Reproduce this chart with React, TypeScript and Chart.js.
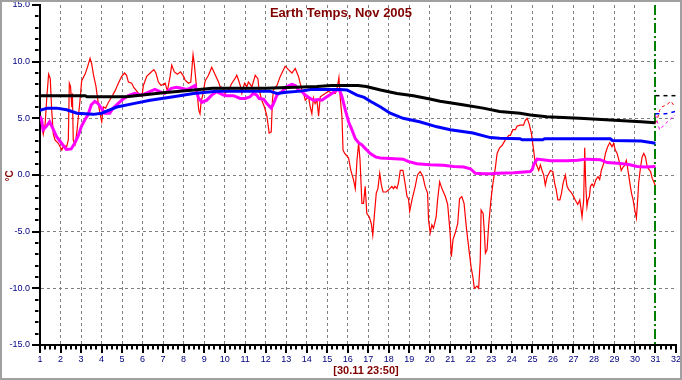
import React, { useEffect, useRef } from 'react';
import { Chart, registerables } from 'chart.js';

Chart.register(...registerables);

const TITLE = 'Earth Temps, Nov 2005';
const X_TITLE = '[30.11 23:50]';
const Y_TITLE = '\u00B0C';
const X_MIN = 1;
const X_MAX = 32;
const Y_MIN = -15;
const Y_MAX = 15;
const NOW_DAY = 31;

// Hourly-ish temperature (red)
const redDays = [
  1.0, 1.08, 1.16, 1.25, 1.33, 1.42, 1.5, 1.57, 1.65, 1.73, 1.89, 1.98, 2.06, 2.15, 2.3, 2.38, 2.43, 2.49, 2.55, 2.58,
  2.62, 2.71, 2.79, 2.95, 3.03, 3.2, 3.31, 3.44, 3.52, 3.6, 3.73, 3.84, 3.96, 4.01, 4.09, 4.2, 4.33, 4.5, 4.65, 4.82,
  4.98, 5.12, 5.22, 5.31, 5.47, 5.58, 5.72, 5.88, 5.98, 6.04, 6.2, 6.37, 6.55, 6.65, 6.77, 6.9, 7.1, 7.21, 7.34, 7.42,
  7.55, 7.7, 7.85, 8.0, 8.07, 8.23, 8.35, 8.46, 8.52, 8.6, 8.67, 8.74, 8.8, 8.85, 8.95, 9.05, 9.21, 9.37, 9.5, 9.7,
  9.78, 9.9, 10.02, 10.19, 10.35, 10.5, 10.59, 10.67, 10.76, 10.84, 10.97, 11.08, 11.16, 11.33, 11.49, 11.62, 11.68, 11.81, 11.94, 12.06,
  12.17, 12.27, 12.33, 12.38, 12.55, 12.71, 12.95, 13.11, 13.28, 13.44, 13.6, 13.68, 13.77, 13.85, 13.93, 14.09, 14.17, 14.25, 14.33, 14.41,
  14.5, 14.58, 14.66, 14.9, 15.07, 15.23, 15.39, 15.47, 15.57, 15.63, 15.72, 15.77, 15.85, 15.95, 16.04, 16.15, 16.28, 16.37, 16.45, 16.53,
  16.6, 16.69, 16.77, 16.85, 16.93, 17.05, 17.15, 17.22, 17.3, 17.39, 17.47, 17.56, 17.64, 17.72, 17.88, 18.05, 18.15, 18.23, 18.3, 18.4,
  18.48, 18.56, 18.69, 18.8, 18.89, 18.96, 19.02, 19.13, 19.29, 19.4, 19.53, 19.66, 19.77, 19.89, 19.94, 20.02, 20.1, 20.18, 20.31, 20.38,
  20.48, 20.59, 20.76, 20.87, 20.99, 21.05, 21.13, 21.24, 21.36, 21.45, 21.56, 21.67, 21.78, 21.85, 21.95, 22.01, 22.1, 22.17, 22.3, 22.38,
  22.46, 22.5, 22.6, 22.66, 22.71, 22.79, 22.87, 22.98, 23.08, 23.2, 23.28, 23.4, 23.52, 23.68, 23.85, 23.93, 24.05, 24.17, 24.25, 24.4,
  24.57, 24.65, 24.74, 24.83, 24.95, 25.06, 25.12, 25.2, 25.31, 25.39, 25.47, 25.55, 25.63, 25.71, 25.88, 26.0, 26.08, 26.16, 26.24, 26.34,
  26.42, 26.5, 26.61, 26.69, 26.77, 26.88, 26.98, 27.09, 27.21, 27.31, 27.42, 27.5, 27.55, 27.6, 27.66, 27.71, 27.78, 27.83, 27.91, 27.99,
  28.1, 28.2, 28.28, 28.36, 28.47, 28.56, 28.67, 28.77, 28.88, 28.96, 29.04, 29.13, 29.26, 29.33, 29.42, 29.48, 29.58, 29.66, 29.75, 29.83,
  29.91, 29.99, 30.07, 30.13, 30.18, 30.27, 30.35, 30.43, 30.51, 30.6, 30.68, 30.76, 30.84, 30.92, 30.98,
];
const redTemps = [
  5.1, 4.5, 3.6, 4.5, 6.8, 8.9, 8.5, 5.7, 3.6, 3.1, 2.8, 2.5, 2.2, 2.6, 2.5, 3.1, 8.1, 7.8, 6.0, 7.2,
  3.1, 2.7, 3.7, 6.6, 8.3, 8.9, 9.5, 10.3, 9.8, 8.9, 7.8, 6.3, 5.1, 4.7, 6.0, 5.9, 6.4, 6.9, 7.4, 8.1,
  8.7, 9.0, 8.8, 8.2, 8.1, 7.7, 7.4, 7.0, 7.1, 7.9, 8.7, 9.0, 9.3, 9.0, 8.2, 7.9, 8.1, 7.4, 8.7, 9.7,
  9.1, 8.9, 9.1, 8.7, 8.4, 8.1, 8.2, 10.6, 9.8, 8.3, 7.0, 5.7, 5.4, 6.4, 7.2, 8.3, 8.8, 9.5, 9.0, 8.2,
  7.8, 7.7, 7.2, 7.5, 8.1, 8.5, 8.8, 8.4, 7.9, 7.2, 8.1, 7.8, 8.2, 7.8, 8.8, 8.5, 7.5, 6.6, 6.0, 5.2,
  3.7, 3.8, 6.6, 7.5, 7.9, 8.7, 9.6, 9.3, 9.0, 9.4, 8.7, 8.1, 7.5, 7.2, 6.6, 6.9, 6.0, 5.4, 6.8, 6.3,
  6.6, 5.2, 6.9, 7.2, 7.4, 7.2, 7.2, 7.5, 8.6, 6.9, 5.1, 2.2, 1.9, 1.7, 1.5, 0.4, -0.4, -1.2, 1.3, 2.8,
  1.3, -2.5, -2.5, -1.0, -3.4, -3.7, -4.3, -5.3, -3.5, -1.6, -1.2, 0.15, -0.9, -1.5, -1.5, -1.2, -1.0, -1.2, -1.0, -1.2,
  -0.6, 0.4, 0.4, -0.8, -1.9, -2.1, -3.2, -2.2, -1.0, 0.0, 0.3, -0.1, -1.0, -1.6, -4.0, -5.1, -4.4, -4.7, -3.7, -2.2,
  -0.6, -1.2, -1.9, -2.6, -5.1, -7.2, -5.7, -5.1, -4.3, -2.1, -1.9, -2.5, -4.6, -5.7, -7.2, -8.1, -9.0, -10.0, -9.8, -10.0,
  -7.5, -3.1, -3.4, -5.1, -6.9, -6.6, -4.4, -2.2, -0.7, 0.7, 1.9, 2.4, 2.6, 3.1, 3.5, 3.5, 4.0, 4.0, 4.3, 4.4,
  4.4, 4.8, 5.0, 4.6, 3.7, 2.2, 1.3, 0.9, 0.4, 0.9, 0.4, 0.0, -0.9, -0.2, 0.4, 0.3, -0.7, -1.3, -2.2, -2.2,
  -1.6, -0.7, 0.0, -1.0, -1.3, -1.5, -1.8, -2.2, -2.6, -2.2, -3.7, -2.2, 2.4, -0.8, -2.8, -2.2, -1.9, -1.0, -0.8, -1.0,
  -0.4, -0.15, -0.4, 0.4, 1.0, 1.9, 2.5, 2.85, 2.5, 2.8, 2.2, 1.9, 1.0, 0.4, 0.7, 0.8, 1.3, 0.4, -0.7, -1.6,
  -2.2, -3.1, -3.8, -2.2, -0.7, 0.7, 1.6, 1.9, 1.6, 0.7, 0.5, 0.3, -0.3, -0.6, -0.9,
];

// Long-term mean (black)
const blackDays = [1, 3.2, 3.3, 5.2, 6.0, 7.0, 8.5, 9.4, 12.0, 14.5, 15.2, 16.5, 16.9, 17.6, 18.4, 19.2, 20.0, 20.5, 21.6, 22.6, 23.4, 24.4, 24.9, 25.7, 27.3, 28.8, 30.3, 31.0];
const blackTemps = [7.0, 7.0, 6.9, 6.9, 7.05, 7.25, 7.5, 7.65, 7.65, 7.8, 7.9, 7.9, 7.8, 7.5, 7.2, 7.0, 6.7, 6.5, 6.2, 5.9, 5.6, 5.45, 5.3, 5.15, 5.0, 4.85, 4.7, 4.6];

// Slow running mean (blue)
const blueDays = [1, 1.35, 1.8, 2.3, 2.8, 3.6, 4.0, 4.4, 4.74, 5.55, 6.37, 7.5, 8.48, 9.6, 12.2, 12.55, 13.0, 13.7, 14.2, 15.6, 15.96, 16.45, 16.8, 17.1, 17.6, 18.07, 18.7, 19.5, 20.35, 21.0, 22.1, 22.95, 23.4, 24.4, 24.5, 25.5, 25.6, 28.8, 28.9, 30.3, 31.0];
const blueTemps = [5.7, 5.9, 5.9, 5.75, 5.45, 5.35, 5.45, 5.75, 6.0, 6.3, 6.6, 6.9, 7.2, 7.4, 7.4, 7.2, 7.3, 7.4, 7.55, 7.55, 7.5, 7.05, 6.85, 6.5, 6.0, 5.45, 5.0, 4.7, 4.25, 4.0, 3.7, 3.3, 3.25, 3.2, 3.1, 3.1, 3.2, 3.2, 3.05, 3.0, 2.8];

// Fast running mean (magenta)
const magentaDays = [1, 1.08, 1.15, 1.31, 1.47, 1.63, 1.8, 2.05, 2.28, 2.52, 2.69, 2.85, 3.02, 3.18, 3.34, 3.5, 3.67, 3.83, 3.99, 4.15, 4.4, 4.56, 4.8, 5.05, 5.3, 5.62, 5.95, 6.27, 6.6, 6.84, 7.08, 7.4, 7.65, 7.9, 8.14, 8.3, 8.56, 8.72, 8.89, 9.13, 9.37, 9.6, 9.78, 9.94, 10.1, 10.43, 10.76, 11.0, 11.24, 11.4, 11.57, 11.68, 11.9, 12.06, 12.27, 12.38, 12.55, 12.79, 13.03, 13.28, 13.44, 13.6, 13.77, 13.93, 14.17, 14.33, 14.57, 14.74, 14.98, 15.23, 15.47, 15.59, 15.72, 15.88, 16.04, 16.2, 16.37, 16.53, 16.69, 16.85, 17.1, 17.35, 17.59, 18.07, 18.7, 18.94, 19.37, 20.0, 20.65, 21.16, 21.65, 21.98, 22.22, 22.62, 23.0, 23.28, 24.1, 24.9, 25.0, 25.06, 25.23, 25.88, 26.7, 27.2, 27.67, 28.3, 28.64, 29.0, 29.4, 29.75, 30.1, 30.5, 31.0];
const magentaTemps = [5.2, 4.85, 4.0, 4.3, 4.7, 4.1, 3.4, 2.8, 2.25, 2.3, 2.8, 3.4, 4.3, 4.85, 5.3, 6.2, 6.5, 6.3, 5.9, 5.45, 5.45, 5.9, 6.3, 6.7, 7.0, 7.2, 7.05, 7.3, 7.55, 7.35, 7.2, 7.65, 7.75, 7.65, 7.55, 7.65, 7.9, 6.8, 6.4, 6.6, 7.05, 7.35, 7.2, 7.05, 7.0, 7.0, 6.75, 6.75, 6.9, 7.2, 7.05, 6.75, 6.7, 6.3, 5.9, 6.3, 7.05, 7.35, 7.8, 8.0, 7.9, 7.5, 7.35, 7.05, 6.75, 6.6, 6.65, 6.6, 6.9, 7.2, 7.5, 7.55, 6.9, 5.75, 4.7, 4.0, 3.2, 2.85, 2.65, 2.35, 1.9, 1.6, 1.5, 1.45, 1.4, 1.2, 1.0, 0.9, 0.85, 0.75, 0.7, 0.55, 0.15, 0.1, 0.1, 0.15, 0.2, 0.3, 0.5, 0.9, 1.4, 1.25, 1.25, 1.3, 1.4, 1.35, 1.1, 1.05, 1.0, 0.9, 0.75, 0.7, 0.75];

// Forecast beyond "now" (dashed)
const fcBlackDays = [31, 32];
const fcBlackTemps = [7.0, 7.0];
const fcBlueDays = [31, 31.5, 31.95];
const fcBlueTemps = [5.4, 5.4, 5.6];
const fcMagentaDays = [31.0, 31.2, 31.5, 31.95];
const fcMagentaTemps = [5.3, 4.0, 4.55, 5.3];
const fcRedDays = [31.0, 31.1, 31.2, 31.3, 31.55, 31.75, 31.95];
const fcRedTemps = [4.55, 5.0, 5.7, 6.0, 6.2, 6.5, 6.0];

const pts = (xs: number[], ys: number[]) => xs.map((x, i) => ({ x, y: ys[i] }));

const NAVY = '#000080';
const DARK_RED = '#800000';
const GRID = '#808080';
const TICK_FONT = '"Liberation Sans Narrow", "Arial Narrow", "Liberation Sans", Arial, sans-serif';
const TITLE_FONT = '"Liberation Sans", Arial, sans-serif';

export default function App() {
  const ref = useRef<HTMLCanvasElement>(null);

  useEffect(() => {
    document.body.style.margin = '0';
    const canvas = ref.current!;

    const decor = {
      id: 'decor',
      beforeDraw(chart: any) {
        const ctx = chart.ctx;
        ctx.save();
        ctx.fillStyle = '#ffffff';
        ctx.fillRect(0, 0, chart.width, chart.height);
        ctx.restore();
      },
      beforeDatasetsDraw(chart: any) {
        const ctx = chart.ctx;
        const xs = chart.scales.x;
        const area = chart.chartArea;
        const gx = Math.round(xs.getPixelForValue(NOW_DAY));
        ctx.save();
        ctx.strokeStyle = '#008000';
        ctx.lineWidth = 2;
        ctx.setLineDash([10, 3, 2, 3]);
        ctx.beginPath();
        ctx.moveTo(gx, area.top);
        ctx.lineTo(gx, area.bottom);
        ctx.stroke();
        ctx.restore();
      },
      afterDraw(chart: any) {
        const ctx = chart.ctx;
        const xs = chart.scales.x;
        const ys = chart.scales.y;
        const area = chart.chartArea;
        ctx.save();
        ctx.strokeStyle = '#000000';
        ctx.lineWidth = 2;
        // y ticks
        for (let v = Y_MIN; v <= Y_MAX; v++) {
          const py = Math.round(ys.getPixelForValue(v));
          const major = v % 5 === 0;
          ctx.beginPath();
          ctx.moveTo(area.left - (major ? 8 : 5), py);
          ctx.lineTo(area.left - (major ? 0 : 1.5), py);
          ctx.stroke();
        }
        // x ticks
        for (let i = 0; i <= (X_MAX - X_MIN) * 4; i++) {
          const v = X_MIN + i / 4;
          const px = Math.round(xs.getPixelForValue(v));
          const major = i % 4 === 0;
          ctx.beginPath();
          ctx.moveTo(px, area.bottom + (major ? 0 : 1));
          ctx.lineTo(px, area.bottom + (major ? 8 : 4.5));
          ctx.stroke();
        }
        // titles
        ctx.fillStyle = DARK_RED;
        ctx.font = `bold 13px ${TITLE_FONT}`;
        ctx.textAlign = 'center';
        ctx.textBaseline = 'alphabetic';
        ctx.fillText(TITLE, chart.width / 2, 17);
        ctx.font = `bold 11px ${TITLE_FONT}`;
        ctx.fillText(X_TITLE, (area.left + area.right) / 2 + 8, 374);
        ctx.translate(10, (area.top + area.bottom) / 2 + 1);
        ctx.rotate(-Math.PI / 2);
        ctx.font = `bold 10px ${TITLE_FONT}`;
        ctx.textBaseline = 'middle';
        ctx.fillText(Y_TITLE, 0, 0);
        ctx.restore();
        // outer frame
        ctx.save();
        ctx.strokeStyle = '#a0a0a0';
        ctx.lineWidth = 2;
        ctx.strokeRect(1, 1, chart.width - 2, chart.height - 2);
        ctx.restore();
      },
    };

    const line = (data: any[], color: string, width: number, dash: number[] = []) => ({
      data,
      borderColor: color,
      backgroundColor: color,
      borderWidth: width,
      borderDash: dash,
      pointRadius: 0,
      tension: 0,
      fill: false,
    });

    const chart = new Chart(canvas, {
      type: 'line',
      data: {
        datasets: [
          line(pts(blackDays, blackTemps), '#000000', 3),
          line(pts(blueDays, blueTemps), '#0000ff', 3),
          line(pts(magentaDays, magentaTemps), '#ff00ff', 3),
          line(pts(redDays, redTemps), '#ff0000', 1.2),
          line(pts(fcBlackDays, fcBlackTemps), '#000000', 1.5, [4, 4]),
          line(pts(fcBlueDays, fcBlueTemps), '#0000ff', 1.5, [4, 4]),
          line(pts(fcMagentaDays, fcMagentaTemps), '#ff00ff', 1, [3, 3]),
          line(pts(fcRedDays, fcRedTemps), '#ff0000', 1, [3, 3]),
        ] as any,
      },
      options: {
        responsive: false,
        animation: false,
        devicePixelRatio: 1,
        layout: { autoPadding: false, padding: { top: 5, right: 6, left: 0, bottom: 0 } },
        plugins: { legend: { display: false }, tooltip: { enabled: false }, title: { display: false } },
        scales: {
          x: {
            type: 'linear',
            min: X_MIN,
            max: X_MAX,
            afterFit: (s: any) => { s.height = 35; s.paddingLeft = 0; s.paddingRight = 0; },
            ticks: {
              stepSize: 1,
              autoSkip: false,
              maxRotation: 0,
              color: NAVY,
              padding: 10,
              font: { family: TICK_FONT, size: 9, lineHeight: 1 },
            },
            grid: {
              drawTicks: false,
              color: (c: any) => (c.tick && (c.tick.value <= X_MIN || c.tick.value >= NOW_DAY) ? 'rgba(0,0,0,0)' : GRID),
              lineWidth: 1,
            },
            border: { display: true, color: '#000000', width: 2, dash: [3, 3] },
          },
          y: {
            type: 'linear',
            min: Y_MIN,
            max: Y_MAX,
            afterFit: (s: any) => { s.width = 40; s.paddingTop = 0; s.paddingBottom = 0; },
            ticks: {
              stepSize: 5,
              color: NAVY,
              padding: 10,
              font: { family: TICK_FONT, size: 9, lineHeight: 1 },
              callback: (v: any) => Number(v).toFixed(1),
            },
            grid: {
              drawTicks: false,
              color: (c: any) => (c.tick && (c.tick.value >= Y_MAX || c.tick.value <= Y_MIN) ? 'rgba(0,0,0,0)' : GRID),
              lineWidth: 1,
            },
            border: { display: true, color: '#000000', width: 2, dash: [3, 3] },
          },
        },
      } as any,
      plugins: [decor],
    });
    return () => chart.destroy();
  }, []);

  return (
    <div style={{ width: 682, height: 380 }}>
      <canvas ref={ref} width={682} height={380} style={{ display: 'block' }} />
    </div>
  );
}
